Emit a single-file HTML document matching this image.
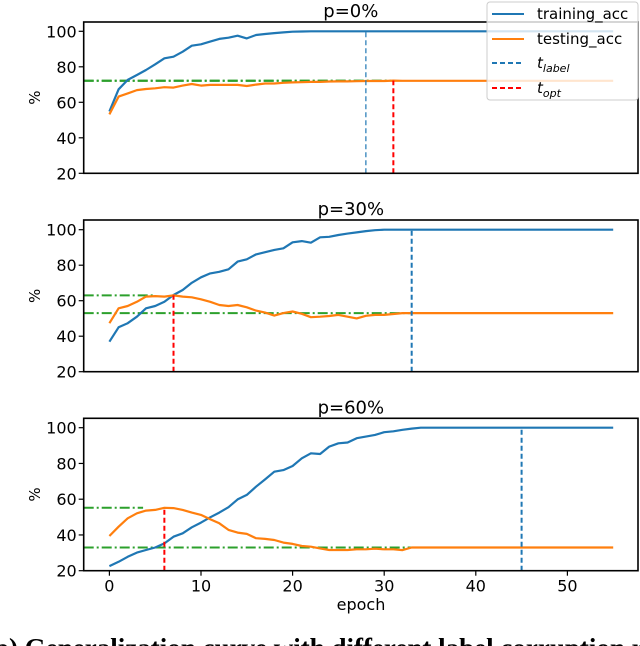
<!DOCTYPE html>
<html><head><meta charset="utf-8">
<style>
html,body{margin:0;padding:0;background:#fff;width:640px;height:646px;overflow:hidden;}
svg{display:block;font-family:"DejaVu Sans","Liberation Sans",sans-serif;}
</style></head>
<body>
<svg id="chart" width="640" height="646" viewBox="0 0 640 646" xmlns="http://www.w3.org/2000/svg"></svg>
<script>
const epochs = Array.from({length:56},(_,i)=>i);
const titles = ["p=0%","p=30%","p=60%"];
const yTicks = [20,40,60,80,100];
const xTicks = [0,10,20,30,40,50];
const tLabel = [28,33,45];
const tOpt = [31,7,6];
const train0 = [54.9,67.3,72.6,75.4,78.2,81.4,84.8,85.7,88.5,91.9,92.7,94.2,95.7,96.4,97.5,96,97.9,98.5,99,99.4,99.8,99.9,100,100,100,100,100,100,100,100,100,100,100,100,100,100,100,100,100,100,100,100,100,100,100,100,100,100,100,100,100,100,100,100,100,100];
const test0 = [53.2,63.2,65,66.9,67.5,67.9,68.5,68.3,69.4,70.3,69.4,69.8,69.8,69.8,69.8,69.2,70,70.6,70.6,71,71.2,71.3,71.5,71.5,71.7,71.8,71.8,71.9,72,72,72,72.2,72.1,72.1,72.1,72.1,72.1,72.1,72.1,72.1,72.1,72.1,72.1,72.1,72.1,72.1,72.1,72.1,72.1,72.1,72.1,72.1,72.1,72.1,72.1,72.1];
const train1 = [36.9,45,47.3,51,55.7,57,59.4,63.2,66,70.1,73.2,75.4,76.3,77.7,82,83.3,86.1,87.3,88.6,89.5,92.9,93.6,92.7,95.7,96,97,97.8,98.5,99.2,99.7,100,100,100,100,100,100,100,100,100,100,100,100,100,100,100,100,100,100,100,100,100,100,100,100,100,100];
const test1 = [47.3,55.7,57,59.4,62.3,62.6,62.3,63,62.3,61.9,60.8,59.4,57.6,57,57.6,56.3,54.4,53.3,51.6,53,53.9,52.6,50.7,51,51.4,52,51,50,51.5,52,52,52.5,53,53,53,53,53,53,53,53,53,53,53,53,53,53,53,53,53,53,53,53,53,53,53,53];
const train2 = [22.6,25,27.8,30.1,31.6,33,35.3,39,40.9,44.3,46.9,49.9,52.5,55.5,59.9,62.4,67,71.1,75.4,76.3,78.6,82.9,85.7,85.3,89.4,91.3,91.7,94.1,95,96,97.5,98,98.8,99.5,100,100,100,100,100,100,100,100,100,100,100,100,100,100,100,100,100,100,100,100,100,100];
const test2 = [39.4,44.6,49.3,52.1,53.6,54,55.2,55,54,52.5,51.2,48.8,46.5,42.8,41.3,40.6,38.2,37.8,37.2,35.7,35,33.8,33.4,32.5,31.6,31.6,31.6,32,32,32.3,32,32,31.5,33,33,33,33,33,33,33,33,33,33,33,33,33,33,33,33,33,33,33,33,33,33,33];
const trains=[train0,train1,train2], tests=[test0,test1,test2];

const NS="http://www.w3.org/2000/svg";
const svg=document.getElementById('chart');
function mk(tag,attrs,parent){const e=document.createElementNS(NS,tag);for(const k in attrs)e.setAttribute(k,attrs[k]);(parent||svg).appendChild(e);return e;}
const AX_L=83.7, AX_R=638;
const panels=[{top:22,bottom:173.3,y100:31.3},{top:220,bottom:371.7,y100:229.7},{top:418.3,bottom:570.7,y100:427.7}];
function xs(e){return 109.4+e*9.16;}

panels.forEach((p,i)=>{
  const g=mk('g',{});
  
  
  const ys=v=>p.bottom-(v-20)*(p.bottom-p.y100)/80;
  const t=mk('text',{x:(AX_L+AX_R)/2-10,y:p.top-5,'font-size':18,'text-anchor':'middle',fill:'#000'},g);
  t.textContent=titles[i];
  
  
  yTicks.forEach(v=>{
    const tk=mk('line',{x1:AX_L-5,x2:AX_L,y1:ys(v),y2:ys(v),stroke:'#000','stroke-width':1.2},g);
    
    
    const lb=mk('text',{x:AX_L-7,y:ys(v)+6,'font-size':16,'text-anchor':'end',fill:'#000'},g);
    lb.textContent=v;
    
    
  });
  const yl=mk('text',{x:0,y:0,'font-size':15,'text-anchor':'middle',transform:`translate(40,${(p.top+p.bottom)/2}) rotate(-90)`,fill:'#000'},g);
  yl.textContent='%';
  
  
  const W=AX_R-AX_L;
  const optVal=tests[i][tOpt[i]], finVal=tests[i][tests[i].length-1];
  const g1=mk('line',{x1:AX_L,x2:AX_L+W*tOpt[i]/56,y1:ys(optVal),y2:ys(optVal),stroke:'#2ca02c','stroke-width':2,'stroke-dasharray':'10 3 2 3'},g);
  
  
  const g2=mk('line',{x1:AX_L,x2:AX_L+W*tLabel[i]/56,y1:ys(finVal),y2:ys(finVal),stroke:'#2ca02c','stroke-width':2,'stroke-dasharray':'10 3 2 3'},g);
  
  
  const pts=arr=>arr.map((v,k)=>xs(epochs[k]).toFixed(1)+','+ys(v).toFixed(1)).join(' ');
  const tr=mk('polyline',{points:pts(trains[i]),fill:'none',stroke:'#1f77b4','stroke-width':2.2,'stroke-linejoin':'round'},g);
  
  
  const te=mk('polyline',{points:pts(tests[i]),fill:'none',stroke:'#ff7f0e','stroke-width':2.2,'stroke-linejoin':'round'},g);
  
  
  const bl=mk('line',{x1:xs(tLabel[i]),x2:xs(tLabel[i]),y1:p.bottom,y2:ys(100),stroke:'#1f77b4','stroke-width':i==0?1.2:2,'stroke-dasharray':'5 3'},g);
  
  
  const rl=mk('line',{x1:xs(tOpt[i]),x2:xs(tOpt[i]),y1:p.bottom,y2:ys(optVal),stroke:'#ff0000','stroke-width':2,'stroke-dasharray':'5 3'},g);
  
  
  const fr=mk('rect',{x:AX_L,y:p.top,width:W,height:p.bottom-p.top,fill:'none',stroke:'#000','stroke-width':1.6},g);
  
  
  if(i==2){
    xTicks.forEach(v=>{
      const tk=mk('line',{x1:xs(v),x2:xs(v),y1:p.bottom,y2:p.bottom+5,stroke:'#000','stroke-width':1.2},g);
      
      
      const lb=mk('text',{x:xs(v),y:p.bottom+21,'font-size':16,'text-anchor':'middle',fill:'#000'},g);
      lb.textContent=v;
      
      
    });
    const xl=mk('text',{x:361,y:610,'font-size':16,'text-anchor':'middle',fill:'#000'},g);
    xl.textContent='epoch';
    
    
  }
});

// legend
const lg=mk('g',{});


mk('rect',{x:487,y:2,width:151,height:98,rx:3,fill:'#fff','fill-opacity':0.8,stroke:'#ccc','stroke-width':1},lg);
const legItems=[['training_acc','#1f77b4',null,14],['testing_acc','#ff7f0e',null,39],['label','#1f77b4','5 3',63],['opt','#ff0000','5 3',88]];
legItems.forEach(([name,col,dash,y])=>{
  const it=mk('g',{},lg);
  
  
  const a={x1:492,x2:524,y1:y,y2:y,stroke:col,'stroke-width':2};
  if(dash)a['stroke-dasharray']=dash;
  mk('line',a,it);
  const tx=mk('text',{x:537,y:y+5,'font-size':15,fill:'#000'},it);
  if(dash){
    tx.setAttribute('font-style','italic');
    tx.textContent='t';
    const s=mk('tspan',{'font-size':11,dy:4},tx);
    s.textContent=name;
  } else tx.textContent=name;
});

const cap=mk('text',{x:-6,y:657,'font-size':27,'font-weight':'bold','font-family':'"Liberation Serif",serif',fill:'#000'});
cap.textContent='b) Generalization curve with different label corruption ratio';


</script>
</body></html>
